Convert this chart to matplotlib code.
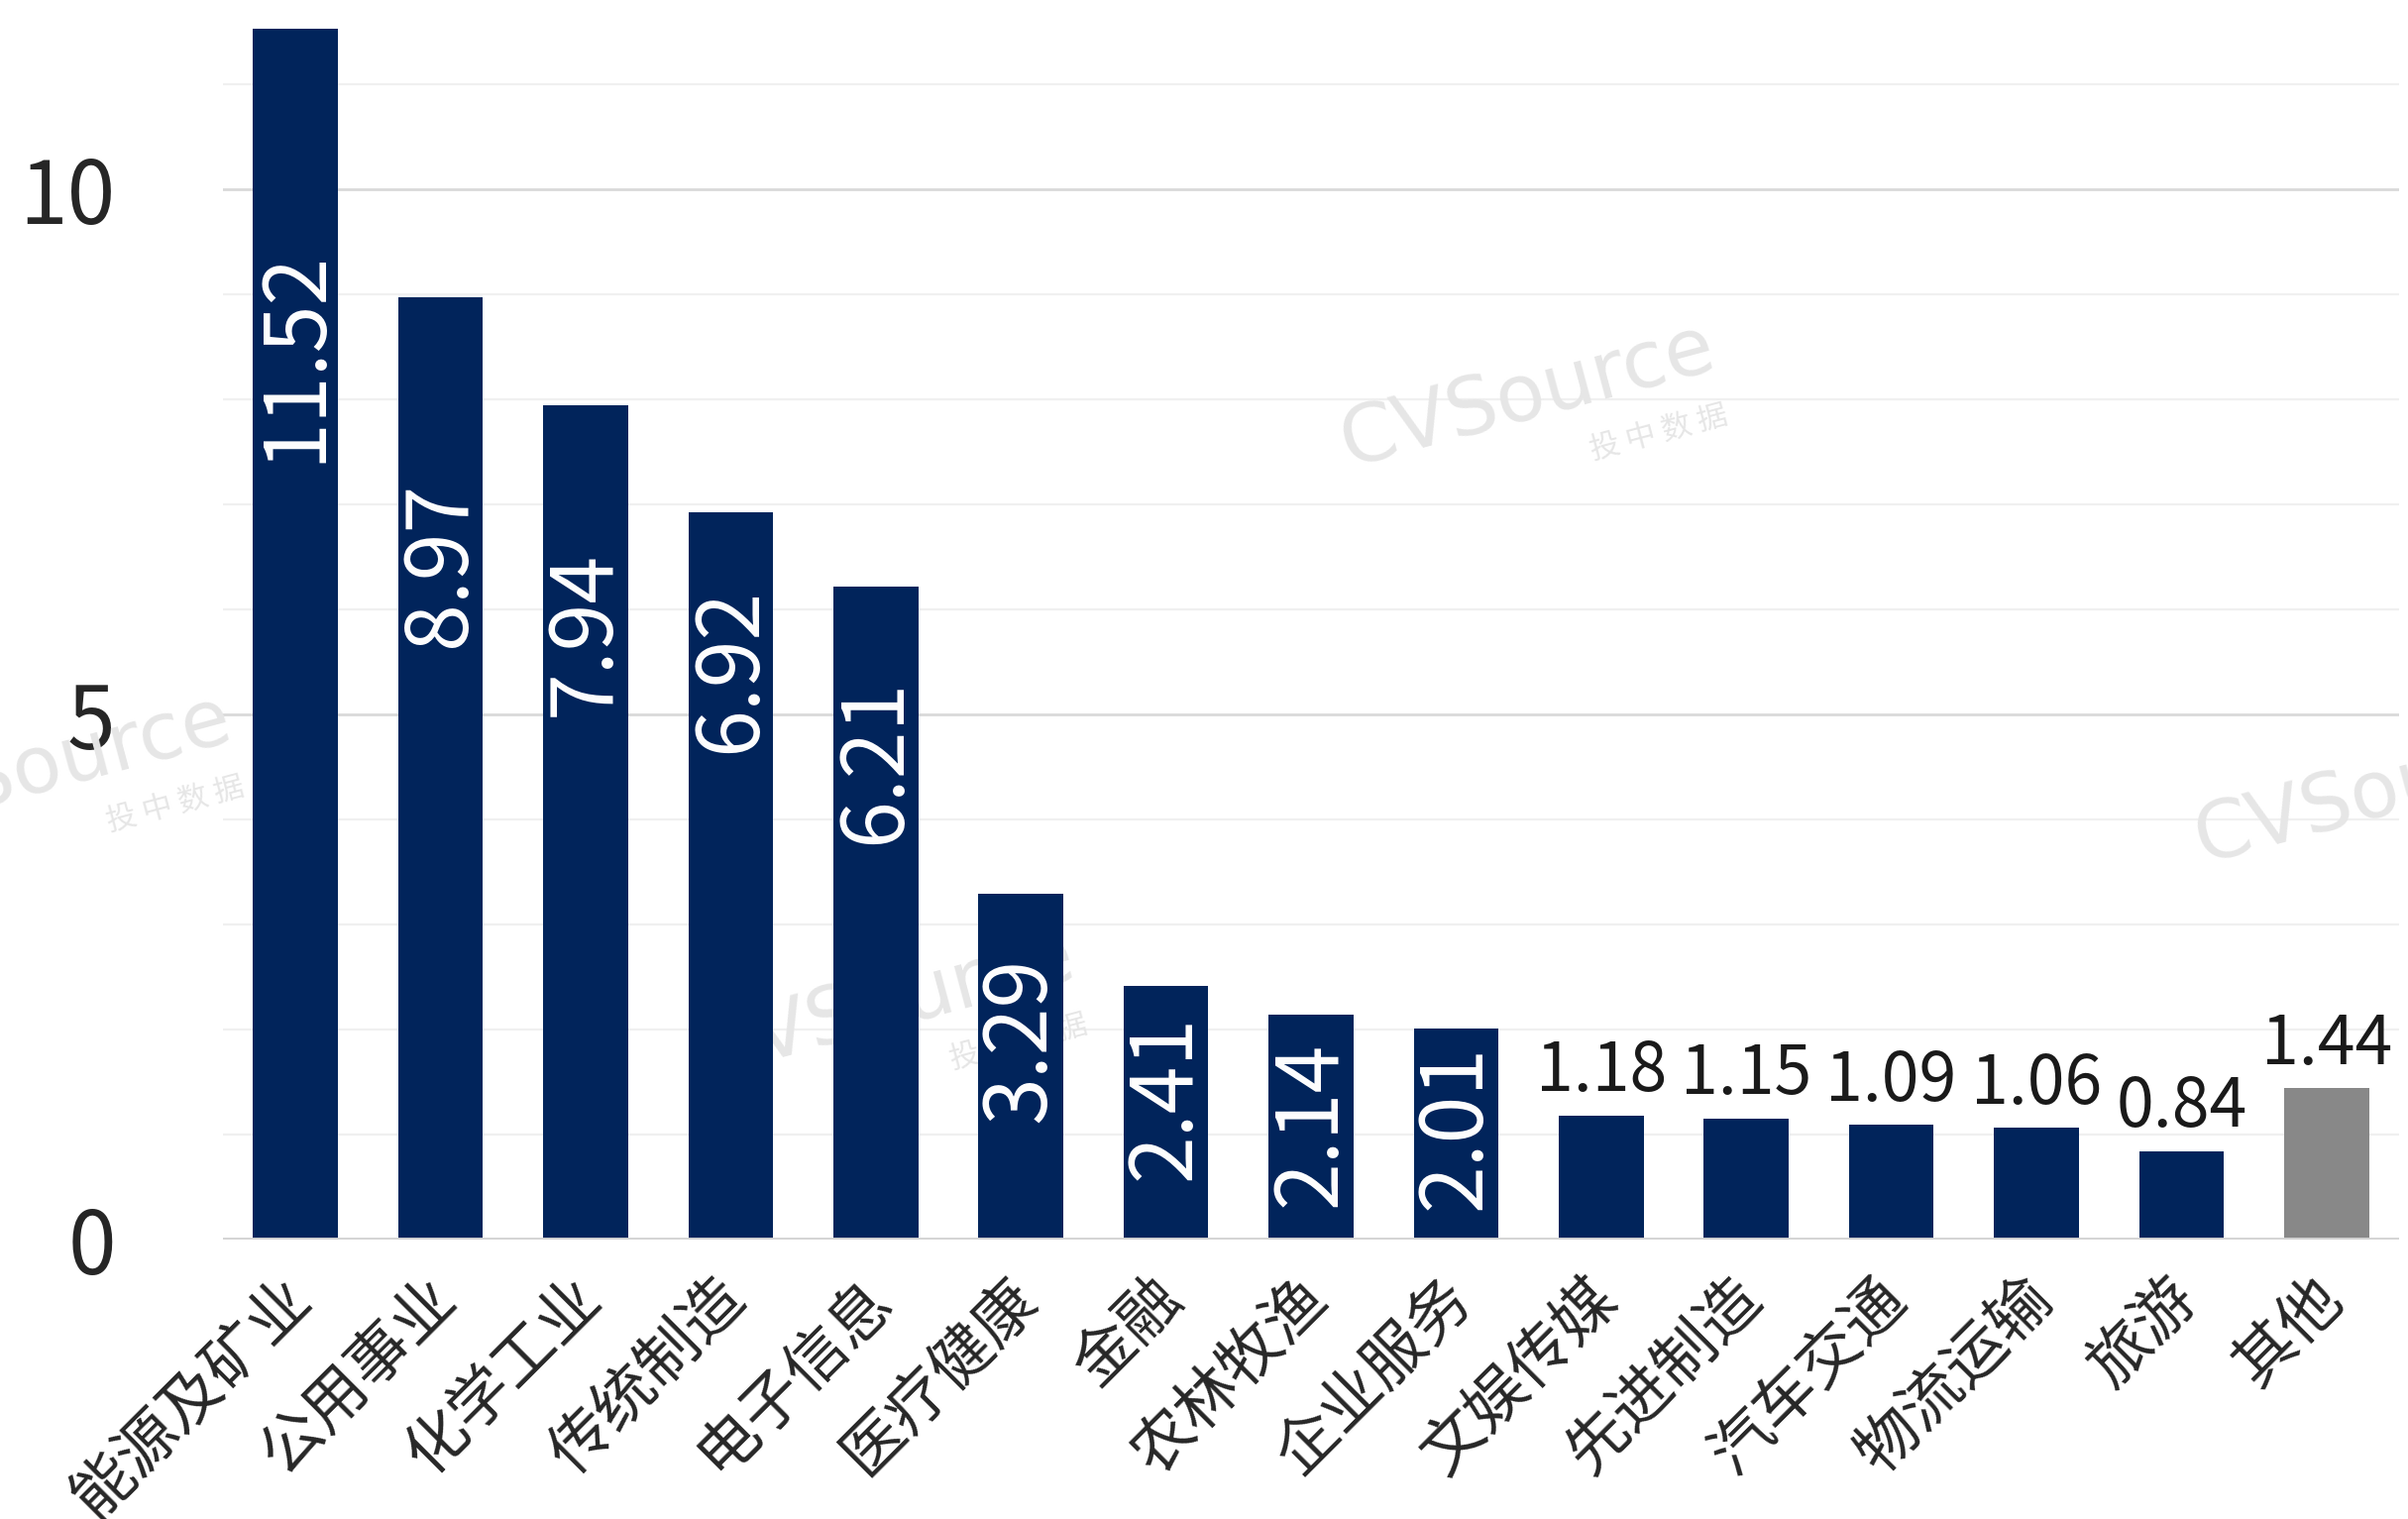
import matplotlib
matplotlib.use("Agg")
import matplotlib.pyplot as plt
import matplotlib.transforms as mtransforms
import numpy as np

plt.rcParams['font.family'] = ['Noto Sans CJK SC', 'DejaVu Sans']

categories = ['能源及矿业', '公用事业', '化学工业', '传统制造', '电子信息', '医疗健康', '金融',
              '农林牧渔', '企业服务', '文娱传媒', '先进制造', '汽车交通', '物流运输', '旅游', '其他']
values = [11.52, 8.97, 7.94, 6.92, 6.21, 3.29, 2.41, 2.14, 2.01, 1.18, 1.15, 1.09, 1.06, 0.84, 1.44]
inside_label_center = [8.41, 6.43, 5.77, 5.42, 4.55, 1.90, 1.35, 1.10, 1.07]
yticks = [0, 5, 10]

navy = '#01245b'
grey = '#888888'
colors = [navy] * (len(values) - 1) + [grey]

W, H = 2430, 1533
fig = plt.figure(figsize=(W / 100, H / 100), dpi=100)
y0_px = 1250.6
unit_px = 106.0
ymax = 11.78
left_px, right_px = 225, 2421
ax = fig.add_axes([left_px / W, (H - y0_px) / H, (right_px - left_px) / W, ymax * unit_px / H])

x = np.arange(len(values))
ax.bar(x, values, width=0.585, color=colors, zorder=3)
ax.set_xlim(-0.5, len(values) - 0.5)
ax.set_ylim(0, ymax)

# gridlines
for v in range(1, 12):
    col = '#d9d9d9' if v % 5 == 0 else '#f0f0f0'
    lw = 2.0 if v % 5 == 0 else 1.6
    ax.axhline(v, color=col, lw=lw, zorder=1)
ax.axhline(0, color='#d4d4d4', lw=2.8, zorder=4)

for s in ax.spines.values():
    s.set_visible(False)

ax.set_yticks(yticks)
ax.set_yticklabels([str(t) for t in yticks], fontsize=63, color='#262626')
ax.tick_params(axis='y', length=0, pad=78)

ax.set_xticks(x)
ax.set_xticklabels(categories, fontsize=45, color='#262626', rotation=45,
                   ha='right', va='center', rotation_mode='anchor')
ax.tick_params(axis='x', length=0, pad=36)
offset = mtransforms.ScaledTranslation(6 / 100, 0, fig.dpi_scale_trans)
for lbl in ax.get_xticklabels():
    lbl.set_transform(lbl.get_transform() + offset)

# value labels
for i, v in enumerate(values):
    if i < len(inside_label_center):
        ax.text(i, inside_label_center[i], f'{v:.2f}', rotation=90, ha='center', va='center',
                color='white', fontsize=62, zorder=5)
    else:
        ax.annotate(f'{v:.2f}', (i, v), xytext=(0, 6), textcoords='offset points',
                    ha='center', va='bottom', color='#1a1a1a', fontsize=49, zorder=5)

# watermarks (behind the bars)
wm_color = '#e6e6e6'
for (px, py) in [(1542, 400), (45, 775), (2404, 800), (896, 1015)]:
    ax.text(px / W, 1 - py / H, 'CVSource', rotation=15, fontsize=58, color=wm_color,
            ha='center', va='center', family='DejaVu Sans', transform=fig.transFigure,
            zorder=2, clip_on=False)
    ax.text((px + 132) / W, 1 - (py + 37) / H, '投 中 数 据', rotation=15, fontsize=22,
            color=wm_color, ha='center', va='center', transform=fig.transFigure,
            zorder=2, clip_on=False)

fig.savefig('out.png', dpi=100)
